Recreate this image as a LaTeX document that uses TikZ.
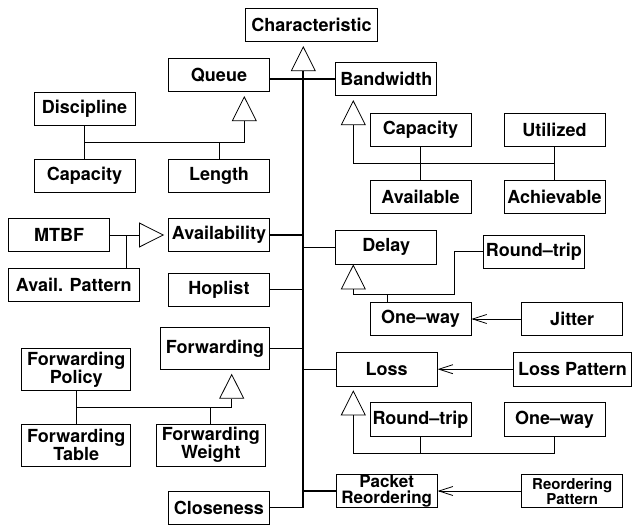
\documentclass[tikz,border=0pt]{standalone}
\usepackage{fontspec}
\setmainfont{TeX Gyre Heros}
\usetikzlibrary{arrows.meta}

\begin{document}
\begin{tikzpicture}[x=1pt,y=-1pt,
	 box/.style={draw,line width=0.8pt,inner sep=0pt,minimum width=101pt,minimum height=33.4pt,align=center,font=\fontsize{18}{15}\selectfont\bfseries},
	 tall/.style={box,minimum height=42pt},
	 isa/.style={line width=0.8pt,-{Triangle[open,length=25pt,width=25pt,line width=0.8pt]},shorten >=4pt},
	 uses/.style={line width=0.8pt,-{Straight Barb[length=14pt,width=9pt,line width=0.8pt]}},
	 tie/.style={line width=0.8pt},
	 spoke/.style={line width=1.3pt},
	 trunk/.style={line width=2.3pt}]
	 \useasboundingbox (0,0) rectangle (633,525);
	 \node[box,minimum width=131.6pt] (char) at (311.5,25) {Characteristic};
	 \node[box] (queue) at (219,75) {Queue};
	 \node[box] (bw) at (386.3,79) {Bandwidth};
	 \node[box] (disc) at (84.5,109) {Discipline};
	 \node[box] (qcap) at (84.5,175.8) {Capacity};
	 \node[box] (qlen) at (219,175.8) {Length};
	 \node[box] (bwcap) at (420.5,130) {Capacity};
	 \node[box] (util) at (554.5,130) {Utilized};
	 \node[box] (avail) at (420.5,196.7) {Available};
	 \node[box] (achv) at (554.5,196.7) {Achievable};
	 \node[box] (mtbf) at (59.2,235) {MTBF};
	 \node[box,minimum width=130.7pt] (apat) at (73.7,285) {Avail. Pattern};
	 \node[box] (avl) at (219,235) {Availability};
	 \node[box] (hop) at (219,289.7) {Hoplist};
	 \node[box] (delay) at (386.3,247.3) {Delay};
	 \node[box] (drt) at (533.8,251.7) {Round--trip};
	 \node[box] (dow) at (420.5,319) {One--way};
	 \node[box] (jit) at (572.2,319) {Jitter};
	 \node[tall,minimum width=108.6pt] (fwd) at (215,348.3) {Forwarding};
	 \node[tall,minimum width=109pt] (fpol) at (76.2,369.5) {Forwarding\\Policy};
	 \node[tall,minimum width=109pt] (ftab) at (76.2,445) {Forwarding\\Table};
	 \node[tall,minimum width=109.7pt] (fwt) at (210.8,445) {Forwarding\\Weight};
	 \node[box] (close) at (218.8,507.8) {Closeness};
	 \node[box] (loss) at (386.7,369.2) {Loss};
	 \node[box,minimum width=118.4pt] (lpat) at (572.5,369.2) {Loss Pattern};
	 \node[box,minimum height=34pt] (lrt) at (420.5,419.7) {Round--trip};
	 \node[box,minimum height=34pt] (low) at (554.5,419.7) {One--way};
	 \node[box,font=\fontsize{17}{16.5}\selectfont\bfseries] (reord) at (386.7,491) {Packet\\Reordering};
	 \node[box,font=\fontsize{15}{15}\selectfont\bfseries] (rpat) at (572.2,491) {Reordering\\Pattern};
	 % junction points
	 \coordinate (tk) at (303.3,507.8);
	 \coordinate (qj) at (244.3,142.7);
	 \coordinate (bj) at (353.3,163.3);
	 \coordinate (aj) at (126.7,235);
	 \coordinate (dj) at (353.3,294);
	 \coordinate (dk) at (387.3,294);
	 \coordinate (dm) at (454,294);
	 \coordinate (fj) at (231.7,407.3);
	 \coordinate (lj) at (353.3,453.3);
	 % trunk
	 \draw[isa,trunk] (tk) -- (tk |- char.south);
	 \draw[spoke] (bw.west) -- (bw.west -| queue.east);
	 \draw[spoke] (avl.east) -- (avl.east -| tk);
	 \draw[spoke] (delay.west) -- (delay.west -| tk);
	 \draw[spoke] (hop.east) -- (hop.east -| tk);
	 \draw[spoke] (fwd.east) -- (fwd.east -| tk);
	 \draw[spoke] (loss.west) -- (loss.west -| tk);
	 \draw[spoke] (reord.west) -- (reord.west -| tk);
	 \draw[spoke] (close.east) -- (tk);
	 % queue
	 \draw[isa] (qj) -- (qj |- queue.south);
	 \draw[tie] (qj) -- (qj -| disc.south);
	 \draw[tie] (disc.south) -- (qcap.north);
	 \draw[tie] (qlen.north) -- (qlen.north |- qj);
	 % bandwidth
	 \draw[isa] (bj) -- (bj |- bw.south);
	 \draw[tie] (bj) -- (bj -| achv.north);
	 \draw[tie] (bwcap.south) -- (avail.north);
	 \draw[tie] (util.south) -- (achv.north);
	 % availability
	 \draw[isa] (mtbf.east) -- (avl.west);
	 \draw[tie] (apat.north -| aj) -- (aj);
	 % delay
	 \draw[isa,shorten >=0pt] (dj) -- (dj |- delay.south);
	 \draw[tie] (dj) -- (dm) |- (drt.west);
	 \draw[tie] (dk) -- (dk |- dow.north);
	 \draw[uses] (jit.west) -- (dow.east);
	 % forwarding
	 \draw[isa] (fj) -- (fj |- fwd.south);
	 \draw[tie] (fj) -- (fj -| fpol.south);
	 \draw[tie] (fpol.south) -- (ftab.north);
	 \draw[tie] (fwt.north) -- (fwt.north |- fj);
	 % loss
	 \draw[uses] (lpat.west) -- (loss.east);
	 \draw[isa] (lj) -- (lj |- loss.south);
	 \draw[tie] (lj) -- (lj -| low.south);
	 \draw[tie] (lrt.south) -- (lrt.south |- lj);
	 \draw[tie] (low.south) -- (low.south |- lj);
	 \draw[uses] (rpat.west) -- (reord.east);
\end{tikzpicture}
\end{document}
